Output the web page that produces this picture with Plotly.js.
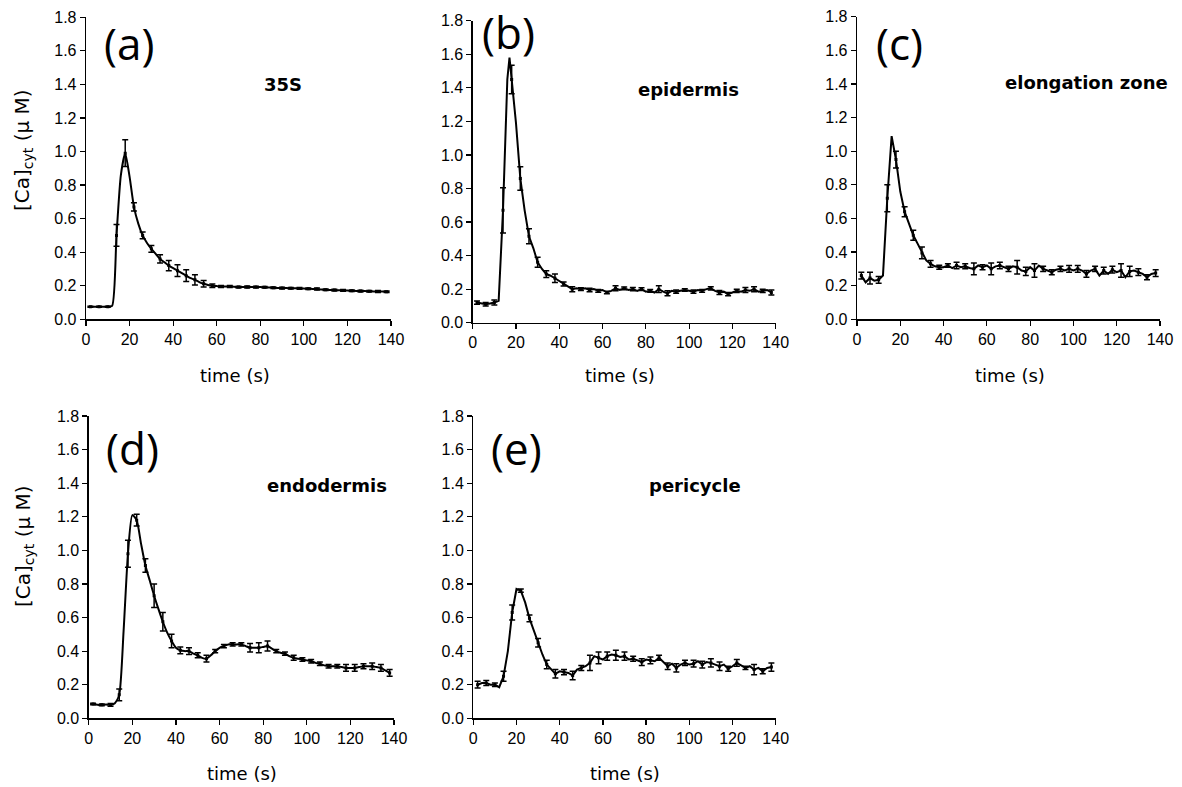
<!DOCTYPE html>
<html>
<head>
<meta charset="utf-8">
<script src="https://cdn.plot.ly/plotly-3.0.1.min.js"></script>
<style>html,body{margin:0;padding:0;background:#fff;}#chart{width:1182px;height:787px;}</style>
</head>
<body>
<div id="chart"></div>
<script>
// ---- Data ----
const timeA = [2,4,6,8,10,12,14,16,18,20,22,24,26,28,30,32,34,36,38,40,42,44,46,48,50,52,54,56,58,60,62,64,66,68,70,72,74,76,78,80,82,84,86,88,90,92,94,96,98,100,102,104,106,108,110,112,114,116,118,120,122,124,126,128,130,132,134,136,138];
const timeB = [2,4,6,8,10,12,14,16,17,18,20,22,24,26,28,30,32,34,36,38,40,42,44,46,48,50,52,54,56,58,60,62,64,66,68,70,72,74,76,78,80,82,84,86,88,90,92,94,96,98,100,102,104,106,108,110,112,114,116,118,120,122,124,126,128,130,132,134,136,138];
const barTimes = [2,6,10,14,18,22,26,30,34,38,42,46,50,54,58,62,66,70,74,78,82,86,90,94,98,102,106,110,114,118,122,126,130,134,138];

// (a) 35S
const ca35S = [.075,.075,.075,.075,.075,.08,.50,.86,.99,.85,
  .67,.57,.50,.455,.42,.39,.36,.34,.32,.305,
  .29,.275,.26,.245,.235,.222,.212,.205,.200,.198,
  .196,.195,.195,.194,.192,.192,.193,.192,.192,.192,
  .191,.19,.188,.187,.186,.186,.185,.185,.184,.183,
  .182,.181,.180,.178,.176,.175,.174,.173,.172,.171,
  .170,.169,.168,.168,.167,.166,.165,.165,.164];
const err35S = [.003,.003,.003,.065,.08,.025,.02,.02,.025,.03,.035,.035,.03,.02,.01,.006,.006,.005,.006,.005,.005,.005,.005,.005,.005,.005,.006,.005,.005,.005,.005,.005,.005,.006,.005];

// (b) epidermis (uses timeB)
const caEpidermis = [.12,.115,.11,.115,.12,.13,.67,1.45,1.58,1.45,
  1.19,.86,.67,.515,.445,.36,.32,.29,.28,.265,
  .25,.23,.215,.20,.205,.20,.205,.195,.20,.19,
  .195,.18,.19,.205,.195,.205,.195,.20,.19,.20,
  .185,.19,.18,.20,.185,.175,.19,.185,.19,.195,
  .19,.185,.195,.19,.20,.205,.19,.18,.185,.17,
  .18,.19,.185,.195,.19,.20,.185,.19,.195,.18];
const errEpidermis = [.01,.01,.015,.135,.085,.07,.045,.03,.02,.025,.012,.015,.008,.01,.008,.008,.015,.008,.01,.008,.008,.02,.015,.01,.008,.01,.008,.01,.012,.01,.01,.015,.015,.01,.015];

// (c) elongation zone
const caElongation = [.26,.22,.245,.23,.235,.26,.72,1.09,.95,.76,
  .64,.57,.50,.45,.395,.35,.33,.315,.31,.31,
  .32,.305,.32,.31,.315,.305,.30,.32,.31,.32,
  .30,.315,.32,.31,.30,.315,.31,.29,.285,.31,
  .29,.32,.30,.29,.28,.295,.30,.29,.30,.29,
  .30,.29,.27,.29,.30,.26,.29,.27,.295,.28,
  .29,.25,.285,.29,.28,.27,.25,.27,.275];
const errElongation = [.02,.035,.02,.08,.05,.03,.03,.035,.02,.012,.01,.02,.015,.035,.015,.035,.02,.015,.04,.025,.04,.015,.015,.015,.02,.02,.02,.015,.02,.02,.04,.03,.02,.015,.02];

// (d) endodermis
const caEndodermis = [.085,.08,.08,.082,.08,.09,.14,.52,.98,1.21,
  1.18,1.04,.91,.82,.73,.65,.575,.51,.46,.42,
  .405,.40,.40,.385,.375,.36,.355,.375,.40,.42,
  .43,.44,.44,.44,.44,.43,.42,.42,.42,.425,
  .43,.415,.40,.39,.385,.37,.36,.355,.35,.345,
  .34,.33,.325,.315,.31,.31,.31,.305,.30,.30,
  .30,.305,.31,.31,.31,.305,.30,.285,.27];
const errEndodermis = [.005,.005,.008,.035,.08,.035,.04,.07,.055,.04,.02,.02,.015,.02,.01,.01,.01,.01,.025,.03,.03,.01,.01,.015,.01,.01,.01,.01,.01,.02,.02,.015,.02,.02,.02];

// (e) pericycle
const caPericycle = [.20,.21,.21,.20,.20,.185,.25,.40,.63,.77,
  .76,.69,.595,.52,.45,.38,.32,.29,.265,.28,
  .275,.27,.255,.29,.30,.31,.33,.37,.36,.35,
  .37,.38,.375,.365,.37,.35,.355,.345,.335,.35,
  .345,.34,.36,.335,.31,.325,.30,.32,.33,.32,
  .325,.34,.32,.335,.33,.32,.31,.32,.295,.31,
  .33,.315,.30,.31,.29,.30,.28,.30,.305];
const errPericycle = [.02,.015,.01,.03,.045,.01,.02,.025,.025,.025,.015,.025,.015,.045,.035,.025,.03,.025,.015,.02,.02,.015,.02,.025,.015,.02,.02,.025,.025,.015,.02,.01,.03,.015,.025];

const panelLabels = ['(a)','(b)','(c)','(d)','(e)'];
const panelNames = ['35S','epidermis','elongation zone','endodermis','pericycle'];
const xTitle = 'time (s)';
const yTitle = '[Ca]<sub>cyt</sub> (μ M)';

// ---- Build ----
const W = 1182, H = 787;
const panels = [
  {t: timeA, v: ca35S, e: err35S, shape: 'spline', xd: [86, 391], yd: [17.3, 319.3],
   lab: [129, 43], name: [283, 85], xt: [235, 375], yt: [23, 150]},
  {t: timeB, v: caEpidermis, e: errEpidermis, shape: 'linear', xd: [472.7, 775.7], yd: [20.7, 322.7],
   lab: [508, 32], name: [688, 89], xt: [620, 375]},
  {t: timeA, v: caElongation, e: errElongation, shape: 'linear', xd: [857, 1160], yd: [16.7, 319.3],
   lab: [900, 43], name: [1086, 83], xt: [1010, 375]},
  {t: timeA, v: caEndodermis, e: errEndodermis, shape: 'spline', xd: [88.7, 394], yd: [416, 718.3],
   lab: [132, 448], name: [327, 485], xt: [242, 773], yt: [24, 546]},
  {t: timeA, v: caPericycle, e: errPericycle, shape: 'linear', xd: [473.3, 775.7], yd: [416, 718.3],
   lab: [516, 448], name: [695, 485], xt: [625, 773]}
];

const px = x => x / W;
const py = y => 1 - y / H;
const tickFont = {family: 'Liberation Sans, Arial, sans-serif', size: 16, color: '#000'};

const traces = [];
const layout = {
  width: W, height: H,
  margin: {l: 0, r: 0, t: 0, b: 0},
  paper_bgcolor: '#fff', plot_bgcolor: '#fff',
  showlegend: false,
  annotations: []
};

panels.forEach((p, i) => {
  const n = i + 1;
  const xa = 'x' + (n === 1 ? '' : n), ya = 'y' + (n === 1 ? '' : n);
  const xk = 'xaxis' + (n === 1 ? '' : n), yk = 'yaxis' + (n === 1 ? '' : n);
  const common = {
    showline: true, linecolor: '#000', linewidth: 1.3,
    ticks: 'outside', ticklen: 5, tickwidth: 1.2, tickcolor: '#000',
    showgrid: false, zeroline: false, tickfont: tickFont, fixedrange: true
  };
  layout[xk] = Object.assign({}, common, {
    domain: [px(p.xd[0]), px(p.xd[1])], anchor: ya,
    range: [0, 140], tick0: 0, dtick: 20
  });
  layout[yk] = Object.assign({}, common, {
    domain: [py(p.yd[1]), py(p.yd[0])], anchor: xa,
    range: [0, 1.8], tick0: 0, dtick: 0.2, tickformat: '.1f'
  });
  traces.push({
    type: 'scatter', mode: 'lines', x: p.t, y: p.v, xaxis: xa, yaxis: ya,
    line: {color: '#000', width: 2, shape: p.shape, smoothing: 0.6},
    hoverinfo: 'skip'
  });
  traces.push({
    type: 'scatter', mode: 'markers', xaxis: xa, yaxis: ya,
    x: barTimes, y: barTimes.map(tb => p.v[p.t.indexOf(tb)]),
    marker: {color: '#000', size: 3, symbol: 'square'},
    error_y: {type: 'data', array: p.e, visible: true, color: '#000', thickness: 1.5, width: 3},
    hoverinfo: 'skip'
  });
  layout.annotations.push({
    xref: 'paper', yref: 'paper', x: px(p.lab[0]), y: py(p.lab[1]),
    xanchor: 'center', yanchor: 'middle', showarrow: false,
    text: panelLabels[i], font: {family: 'Open Sans, DejaVu Sans, sans-serif', size: 44, color: '#000'}
  });
  layout.annotations.push({
    xref: 'paper', yref: 'paper', x: px(p.name[0]), y: py(p.name[1]),
    xanchor: 'center', yanchor: 'middle', showarrow: false,
    text: '<b>' + panelNames[i] + '</b>', font: {family: 'DejaVu Sans, sans-serif', size: 18, color: '#000'}
  });
  layout.annotations.push({
    xref: 'paper', yref: 'paper', x: px(p.xt[0]), y: py(p.xt[1]),
    xanchor: 'center', yanchor: 'middle', showarrow: false,
    text: xTitle, font: {family: 'DejaVu Sans, sans-serif', size: 18, color: '#000'}
  });
  if (p.yt) {
    layout.annotations.push({
      xref: 'paper', yref: 'paper', x: px(p.yt[0]), y: py(p.yt[1]),
      xanchor: 'center', yanchor: 'middle', showarrow: false, textangle: -90,
      text: yTitle, font: {family: 'DejaVu Sans, sans-serif', size: 20, color: '#000'}
    });
  }
});

Plotly.newPlot('chart', traces, layout, {staticPlot: true, displayModeBar: false});
</script>
</body>
</html>
